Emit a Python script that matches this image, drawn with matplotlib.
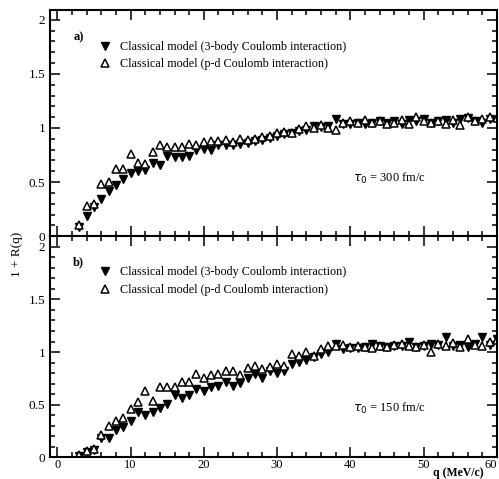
import matplotlib
matplotlib.use("Agg")
import matplotlib.pyplot as plt
from matplotlib.ticker import MultipleLocator, FormatStrFormatter

plt.rcParams['font.family'] = ['Liberation Serif', 'DejaVu Serif']

# ---------------- data ----------------
q = [3, 4, 5, 6, 7, 8, 9, 10, 11, 12, 13, 14, 15, 16, 17, 18, 19, 20,
     21, 22, 23, 24, 25, 26, 27, 28, 29, 30, 31, 32, 33, 34, 35, 36, 37, 38,
     39, 40, 41, 42, 43, 44, 45, 46, 47, 48, 49, 50, 51, 52, 53, 54, 55, 56,
     57, 58, 59, 60]

# panel a) tau0 = 300 fm/c
a_3body = [0.08, 0.19, 0.27, 0.34, 0.42, 0.47, 0.53, 0.58, 0.60, 0.61, 0.68, 0.66,
           0.74, 0.73, 0.73, 0.74, 0.80, 0.81, 0.80, 0.84, 0.84, 0.84, 0.85, 0.86,
           0.88, 0.89, 0.91, 0.93, 0.94, 0.95, 0.97, 0.98, 1.02, 1.01, 1.02, 1.08,
           1.04, 1.04, 1.05, 1.04, 1.05, 1.06, 1.05, 1.06, 1.04, 1.07, 1.06, 1.08,
           1.05, 1.06, 1.07, 1.05, 1.08, 1.09, 1.06, 1.05, 1.08, 1.07]
a_pd = [0.10, 0.28, 0.30, 0.48, 0.50, 0.62, 0.62, 0.76, 0.68, 0.67, 0.78, 0.84,
        0.82, 0.82, 0.82, 0.85, 0.84, 0.87, 0.88, 0.88, 0.89, 0.87, 0.90, 0.89,
        0.90, 0.92, 0.93, 0.95, 0.96, 0.95, 0.99, 1.02, 1.00, 1.03, 1.00, 0.98,
        1.05, 1.06, 1.05, 1.07, 1.05, 1.06, 1.04, 1.05, 1.07, 1.04, 1.10, 1.06,
        1.05, 1.06, 1.04, 1.07, 1.03, 1.10, 1.06, 1.08, 1.10, 1.09]

# panel b) tau0 = 150 fm/c
b_3body = [0.01, 0.05, 0.07, 0.18, 0.18, 0.26, 0.29, 0.35, 0.43, 0.40, 0.43, 0.47,
           0.51, 0.59, 0.56, 0.59, 0.65, 0.63, 0.67, 0.68, 0.72, 0.68, 0.71, 0.75,
           0.79, 0.75, 0.82, 0.80, 0.82, 0.89, 0.91, 0.92, 0.95, 0.98, 1.00, 1.08,
           1.03, 1.04, 1.04, 1.05, 1.08, 1.06, 1.05, 1.06, 1.06, 1.10, 1.05, 1.06,
           1.08, 1.07, 1.14, 1.06, 1.07, 1.05, 1.08, 1.14, 1.07, 1.12]
b_pd = [0.02, 0.06, 0.08, 0.21, 0.30, 0.35, 0.37, 0.46, 0.53, 0.63, 0.54, 0.67,
        0.67, 0.67, 0.72, 0.72, 0.79, 0.75, 0.78, 0.79, 0.82, 0.82, 0.78, 0.85,
        0.87, 0.84, 0.86, 0.89, 0.87, 0.98, 0.96, 1.00, 0.96, 1.03, 1.06, 1.06,
        1.07, 1.05, 1.06, 1.05, 1.04, 1.06, 1.05, 1.07, 1.08, 1.06, 1.05, 1.07,
        1.00, 1.08, 1.06, 1.09, 1.05, 1.12, 1.07, 1.06, 1.10, 1.11]

q_ticks = [0, 10, 20, 30, 40, 50, 60]

label_3body = "Classical model (3-body Coulomb interaction)"
label_pd = "Classical model (p-d Coulomb interaction)"
panel_tags = ["a)", "b)"]
tau_labels = [r"$\tau_0$ = 300 fm/c", r"$\tau_0$ = 150 fm/c"]

# ---------------- figure ----------------
fig = plt.figure(figsize=(4.99, 4.79), dpi=100)
ax_a = fig.add_axes([0.100, 0.507, 0.896, 0.472])
ax_b = fig.add_axes([0.100, 0.045, 0.896, 0.462])

panels = [
    (ax_a, a_3body, a_pd, 2.09, 0.257),
    (ax_b, b_3body, b_pd, 2.10, 0.22),
]

for i, (ax, y3, ypd, ytop, tau_y) in enumerate(panels):
    ax.plot(q, y3, linestyle='none', marker='v', markersize=5.5,
            color='black', label=label_3body)
    ax.plot(q, ypd, linestyle='none', marker='^', markersize=5.5,
            markerfacecolor='white', markeredgecolor='black', markeredgewidth=1.1,
            label=label_pd)

    ax.set_xlim(-1, 60)
    ax.set_ylim(0, ytop)
    ax.set_xticks(q_ticks, [str(t) for t in q_ticks])
    ax.xaxis.set_minor_locator(MultipleLocator(2))
    ax.yaxis.set_major_locator(MultipleLocator(0.5))
    ax.yaxis.set_minor_locator(MultipleLocator(0.1))
    ax.yaxis.set_major_formatter(FormatStrFormatter('%g'))
    ax.tick_params(which='both', direction='in', top=True, right=True,
                   labelsize=9.5, width=1.1)
    ax.tick_params(which='major', length=7)
    ax.tick_params(which='minor', length=3.5)
    ax.tick_params(axis='x', pad=0.8, labelsize=9)
    for sp in ax.spines.values():
        sp.set_linewidth(1.5)

    ax.text(0.052, 0.88, panel_tags[i], transform=ax.transAxes, fontsize=9,
            fontweight='bold', va='center')
    ax.text(0.76, tau_y, tau_labels[i], transform=ax.transAxes, fontsize=9,
            ha='center', va='center')
    ax.legend(loc='upper left', bbox_to_anchor=(0.1, 0.885), frameon=False,
              fontsize=8.7, handlelength=1.0, handletextpad=0.7,
              labelspacing=0.45, borderaxespad=0)

ax_a.tick_params(labelbottom=False)

# last x label sits at the right edge; keep it inside the picture
ax_b.get_xticklabels()[-1].set_horizontalalignment('right')

fig.text(0.035, 0.468, "1 + R(q)", rotation=90, ha='center', va='center',
         fontsize=9.5)
fig.text(0.97, 0.0, "q (MeV/c)", ha='right', va='bottom', fontsize=8.5,
         fontweight='bold')

fig.savefig("out.png", dpi=100)
